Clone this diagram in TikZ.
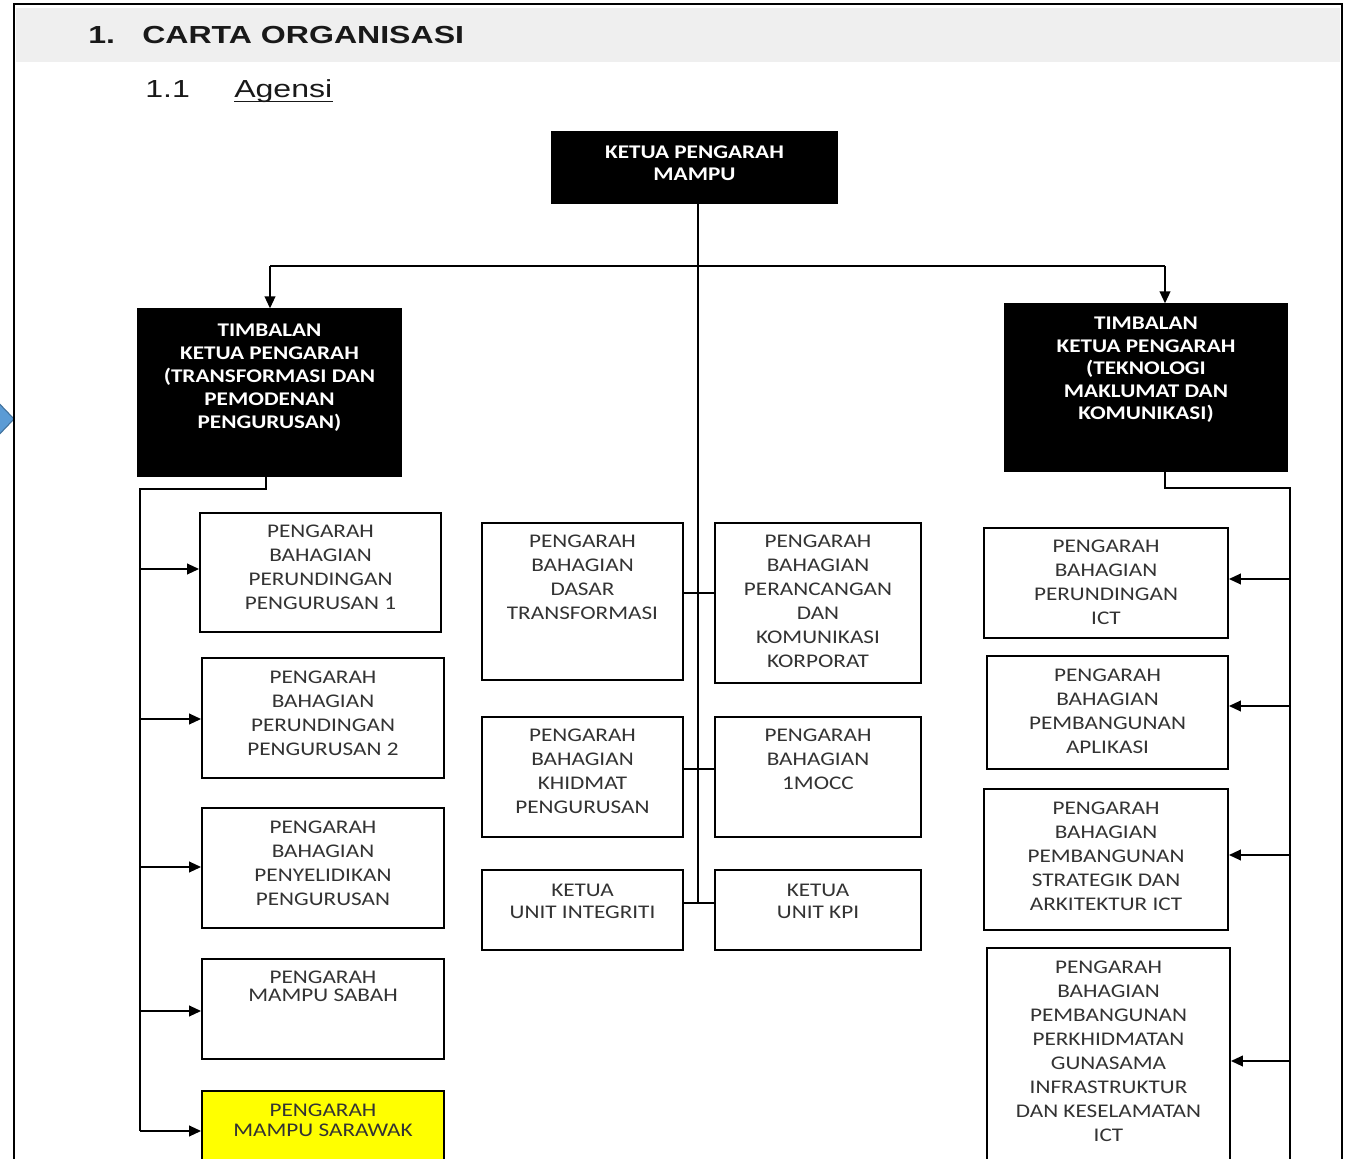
\documentclass[tikz,border=0pt]{standalone}
\usepackage{fontspec}
\usetikzlibrary{arrows.meta,fit}
\newfontfamily\boxfont[FakeStretch=1.2]{Carlito}
\newfontfamily\headfont[FakeStretch=1.3]{Liberation Sans}
\definecolor{bandgray}{HTML}{EFEFEF}
\definecolor{chevfill}{HTML}{5B9BD5}
\definecolor{chevdraw}{HTML}{41719C}
\definecolor{boxyellow}{HTML}{FFFF00}
\tikzset{
  conn/.style={draw=black, line width=1.4pt},
  arr/.style={conn, -{Triangle[length=9pt,width=8pt]}},
  wbox/.style={draw=black, line width=1.4pt, fill=white, inner sep=0pt},
  ybox/.style={wbox, fill=boxyellow},
  bbox/.style={draw=black, fill=black, line width=1pt, inner sep=0pt},
  wtxt/.style={font={\boxfont\fontsize{14.5}{#1}\selectfont}, align=center, inner sep=0pt, text=black!80, anchor=north},
  wtxt/.default=18,
  btxt/.style={font={\boxfont\bfseries\fontsize{14.5}{#1}\selectfont}, align=center, inner sep=0pt, text=white, anchor=north},
  btxt/.default=17,
}
\begin{document}
\begin{tikzpicture}[x=0.75pt, y=-0.75pt]
\clip (0,0) rectangle (1350,1159);
\fill[white] (0,0) rectangle (1350,1159);
% left chevron (partly visible)
\filldraw[fill=chevfill, draw=chevdraw, line width=0.8pt] (-8,396) -- (14,419) -- (-8,442) -- cycle;
% page frame and header band
\fill[bandgray] (16,8) rectangle (1340,62);
\draw[line width=1.2pt] (14,1170) -- (14,4) -- (1342,4) -- (1342,1170);
\node[font={\headfont\bfseries\fontsize{18.5}{22}\selectfont}, anchor=base west, inner sep=0pt, text=black!90] (hnum) at (88,44) {1.};
\node[font={\headfont\bfseries\fontsize{18.5}{22}\selectfont}, anchor=base west, inner sep=0pt, text=black!90] (htitle) at (142,44) {CARTA ORGANISASI};
\node[font={\headfont\fontsize{18.5}{22}\selectfont}, anchor=base west, inner sep=0pt, text=black!90] (snum) at (145,98) {1.1};
\node[font={\headfont\fontsize{18.5}{22}\selectfont}, anchor=base west, inner sep=0pt, text=black!90] (stitle) at (234,98) {Agensi};
\draw[line width=1.1pt, black!90] ([yshift=-2.5pt]stitle.base west) -- ([yshift=-2.5pt]stitle.base east);

% black boxes
\node[bbox, fit={(552,132) (837,203)}] (top) {};
\node[btxt=16.5] at (694.5,146) {KETUA PENGARAH\\MAMPU};
\node[bbox, fit={(138,309) (401,476)}] (TL) {};
\node[btxt=17.25] at (269.5,324) {TIMBALAN\\KETUA PENGARAH\\(TRANSFORMASI DAN\\PEMODENAN\\PENGURUSAN)};
\node[bbox, fit={(1005,304) (1287,471)}] (TR) {};
\node[btxt=16.9] at (1146,317) {TIMBALAN\\KETUA PENGARAH\\(TEKNOLOGI\\MAKLUMAT DAN\\KOMUNIKASI)};

% left column
\node[wbox, fit={(200,513) (441,632)}] (L1) {};
\node[wtxt] at (320.5,525) {PENGARAH\\BAHAGIAN\\PERUNDINGAN\\PENGURUSAN 1};
\node[wbox, fit={(202,658) (444,778)}] (L2) {};
\node[wtxt] at (323,671) {PENGARAH\\BAHAGIAN\\PERUNDINGAN\\PENGURUSAN 2};
\node[wbox, fit={(202,808) (444,928)}] (L3) {};
\node[wtxt] at (323,821) {PENGARAH\\BAHAGIAN\\PENYELIDIKAN\\PENGURUSAN};
\node[wbox, fit={(202,959) (444,1059)}] (L4) {};
\node[wtxt=13.5] at (323,971) {PENGARAH\\MAMPU SABAH};
\node[ybox, fit={(202,1091) (444,1200)}] (L5) {};
\node[wtxt=15] at (323,1104) {PENGARAH\\MAMPU SARAWAK};

% centre column
\node[wbox, fit={(482,523) (683,680)}] (C1) {};
\node[wtxt] at (582.5,535) {PENGARAH\\BAHAGIAN\\DASAR\\TRANSFORMASI};
\node[wbox, fit={(715,523) (921,683)}] (C2) {};
\node[wtxt] at (818,535) {PENGARAH\\BAHAGIAN\\PERANCANGAN\\DAN\\KOMUNIKASI\\KORPORAT};
\node[wbox, fit={(482,717) (683,837)}] (C3) {};
\node[wtxt] at (582.5,729) {PENGARAH\\BAHAGIAN\\KHIDMAT\\PENGURUSAN};
\node[wbox, fit={(715,717) (921,837)}] (C4) {};
\node[wtxt] at (818,729) {PENGARAH\\BAHAGIAN\\1MOCC};
\node[wbox, fit={(482,870) (683,950)}] (C5) {};
\node[wtxt=16.5] at (582.5,884) {KETUA\\UNIT INTEGRITI};
\node[wbox, fit={(715,870) (921,950)}] (C6) {};
\node[wtxt=16.5] at (818,884) {KETUA\\UNIT KPI};

% right column
\node[wbox, fit={(984,528) (1228,638)}] (R1) {};
\node[wtxt] at (1106,540) {PENGARAH\\BAHAGIAN\\PERUNDINGAN\\ICT};
\node[wbox, fit={(987,656) (1228,769)}] (R2) {};
\node[wtxt] at (1107.5,669) {PENGARAH\\BAHAGIAN\\PEMBANGUNAN\\APLIKASI};
\node[wbox, fit={(984,789) (1228,930)}] (R3) {};
\node[wtxt] at (1106,802) {PENGARAH\\BAHAGIAN\\PEMBANGUNAN\\STRATEGIK DAN\\ARKITEKTUR ICT};
\node[wbox, fit={(987,948) (1230,1200)}] (R4) {};
\node[wtxt] at (1108.5,961) {PENGARAH\\BAHAGIAN\\PEMBANGUNAN\\PERKHIDMATAN\\GUNASAMA\\INFRASTRUKTUR\\DAN KESELAMATAN\\ICT};

% connector coordinates
\coordinate (sp0) at (698,203);
\coordinate (sp1) at (698,266);
\coordinate (sp2) at (698,903);
\coordinate (hl) at (270,266);
\coordinate (hr) at (1165,266);
\coordinate (ya) at (0,593);
\coordinate (yb) at (0,769);
\coordinate (yc) at (0,903);
\coordinate (ld) at (266,489);
\coordinate (lb) at (140,489);
\coordinate (lend) at (140,1131);
\coordinate (rd) at (1165,488);
\coordinate (rb) at (1290,488);
\coordinate (rend) at (1290,1170);
\coordinate (la1) at (140,569);
\coordinate (la2) at (140,719);
\coordinate (la3) at (140,867);
\coordinate (la4) at (140,1011);
\coordinate (ra1) at (1290,579);
\coordinate (ra2) at (1290,706);
\coordinate (ra3) at (1290,855);
\coordinate (ra4) at (1290,1061);

% top level
\draw[conn] (sp0 |- top.south) -- (sp2);
\draw[conn] (hl) -- (hr);
\draw[arr] (hl) -- (hl |- TL.north);
\draw[arr] (hr) -- (hr |- TR.north);
% centre branches
\draw[conn] (C1.east |- ya) -- (C2.west |- ya);
\draw[conn] (C3.east |- yb) -- (C4.west |- yb);
\draw[conn] (C5.east |- yc) -- (C6.west |- yc);
% left branch
\draw[conn] (ld |- TL.south) -- (ld) -- (lb) -- (lend);
\draw[arr] (la1) -- (la1 -| L1.west);
\draw[arr] (la2) -- (la2 -| L2.west);
\draw[arr] (la3) -- (la3 -| L3.west);
\draw[arr] (la4) -- (la4 -| L4.west);
\draw[arr] (lend) -- (lend -| L5.west);
% right branch
\draw[conn] (rd |- TR.south) -- (rd) -- (rb) -- (rend);
\draw[arr] (ra1) -- (ra1 -| R1.east);
\draw[arr] (ra2) -- (ra2 -| R2.east);
\draw[arr] (ra3) -- (ra3 -| R3.east);
\draw[arr] (ra4) -- (ra4 -| R4.east);
\end{tikzpicture}
\end{document}
